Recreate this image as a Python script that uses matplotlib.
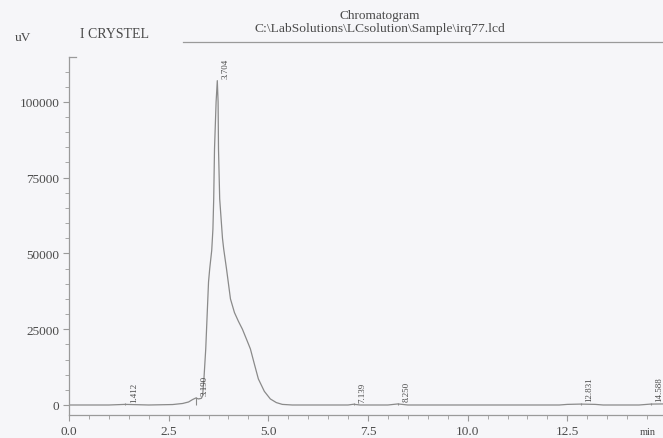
import matplotlib.pyplot as plt
from matplotlib.lines import Line2D
from matplotlib.ticker import MultipleLocator, FormatStrFormatter

# Chromatogram trace (time in min, signal in uV)
time_min = [0.0, 1.0, 1.41, 2.0, 2.6, 2.85, 3.0, 3.1, 3.18, 3.25, 3.32, 3.35,
            3.38, 3.43, 3.46, 3.50, 3.53, 3.58, 3.61, 3.63, 3.65, 3.69, 3.72,
            3.74, 3.75, 3.78, 3.85, 3.88, 3.95, 4.05, 4.15, 4.25, 4.35, 4.48,
            4.55, 4.65, 4.75, 4.9, 5.05, 5.2, 5.35, 5.6, 7.0, 7.14, 7.3, 8.0,
            8.25, 8.5, 12.3, 12.5, 12.83, 13.2, 13.4, 14.3, 14.59, 14.9]
signal_uv = [0, 0, 200, 0, 150, 500, 1000, 1800, 2300, 2000, 2200, 3000,
             7600, 18500, 28000, 40600, 45000, 51000, 58000, 68000, 84500,
             100000, 107000, 100000, 84500, 68000, 55000, 51500, 45000, 35000,
             30500, 27600, 25000, 20800, 18500, 13500, 8600, 4500, 2000, 800,
             200, 0, 0, 250, 0, 0, 350, 0, 0, 200, 300, 200, 0, 0, 300, 350]

# Peak annotations
peak_rt = [1.412, 3.190, 3.704, 7.139, 8.250, 12.831, 14.588]
peak_height = [200, 2300, 107000, 250, 350, 300, 300]
peak_labels = ['1.412', '3.190', '3.704', '7.139', '8.250', '12.831', '14.588']

W, H = 663, 439
bg = '#f6f6f9'
txt = '#4a4a4a'
serif = 'Liberation Serif'

fig = plt.figure(figsize=(W / 100, H / 100), dpi=100, facecolor=bg)
ax = fig.add_axes([69 / W, 1 - 416 / H, 1 - 69 / W, (416 - 58) / H], facecolor=bg)

ax.plot(time_min, signal_uv, color='#8a8a8a', lw=0.9)

# small marker lines and rotated retention-time labels
for rt, h, lab in zip(peak_rt, peak_height, peak_labels):
    if h < 50000:
        ax.vlines(rt, 0, h + 300, color='#8a8a8a', lw=0.8)
    ax.text(rt + 0.22, h + 900, lab, rotation=90, ha='center', va='bottom',
            fontsize=6.5, color=txt, family=serif)

ax.set_xlim(0, 14.9)
ax.set_ylim(-3300, 114800)

for s in ['top', 'right']:
    ax.spines[s].set_visible(False)
for s in ['left', 'bottom']:
    ax.spines[s].set_color('#9a9a9a')
    ax.spines[s].set_linewidth(0.9)

ax.xaxis.set_major_locator(MultipleLocator(2.5))
ax.xaxis.set_minor_locator(MultipleLocator(0.5))
ax.xaxis.set_major_formatter(FormatStrFormatter('%.1f'))
ax.yaxis.set_major_locator(MultipleLocator(25000))
ax.yaxis.set_minor_locator(MultipleLocator(5000))
ax.tick_params(which='both', colors='#9a9a9a', labelcolor=txt, labelsize=9.5)
ax.tick_params(which='major', length=4, pad=3)
ax.tick_params(which='minor', length=3)
for lab in ax.get_xticklabels() + ax.get_yticklabels():
    lab.set_family(serif)

# little hook at top of the y axis
ax.add_line(Line2D([0, 0.012], [1, 1], transform=ax.transAxes,
                   color='#9a9a9a', lw=0.9, clip_on=False))

# header
fig.text(380 / W, 1 - 16 / H, 'Chromatogram', ha='center', va='center',
         fontsize=9.5, color=txt, family=serif)
fig.text(380 / W, 1 - 29 / H, r'C:\LabSolutions\LCsolution\Sample\irq77.lcd',
         ha='center', va='center', fontsize=9.7, color=txt, family=serif)
fig.text(15 / W, 1 - 38 / H, 'uV', ha='left', va='center',
         fontsize=9.5, color=txt, family=serif)
fig.text(80 / W, 1 - 35 / H, 'I CRYSTEL', ha='left', va='center',
         fontsize=10, color=txt, family=serif)
fig.add_artist(Line2D([183 / W, 1], [1 - 43 / H, 1 - 43 / H],
                      transform=fig.transFigure, color='#9a9a9a', lw=0.9))
fig.text(640 / W, 1 - 433 / H, 'min', ha='left', va='center',
         fontsize=7.5, color=txt, family=serif)

fig.savefig('out.png', dpi=100, facecolor=bg)
